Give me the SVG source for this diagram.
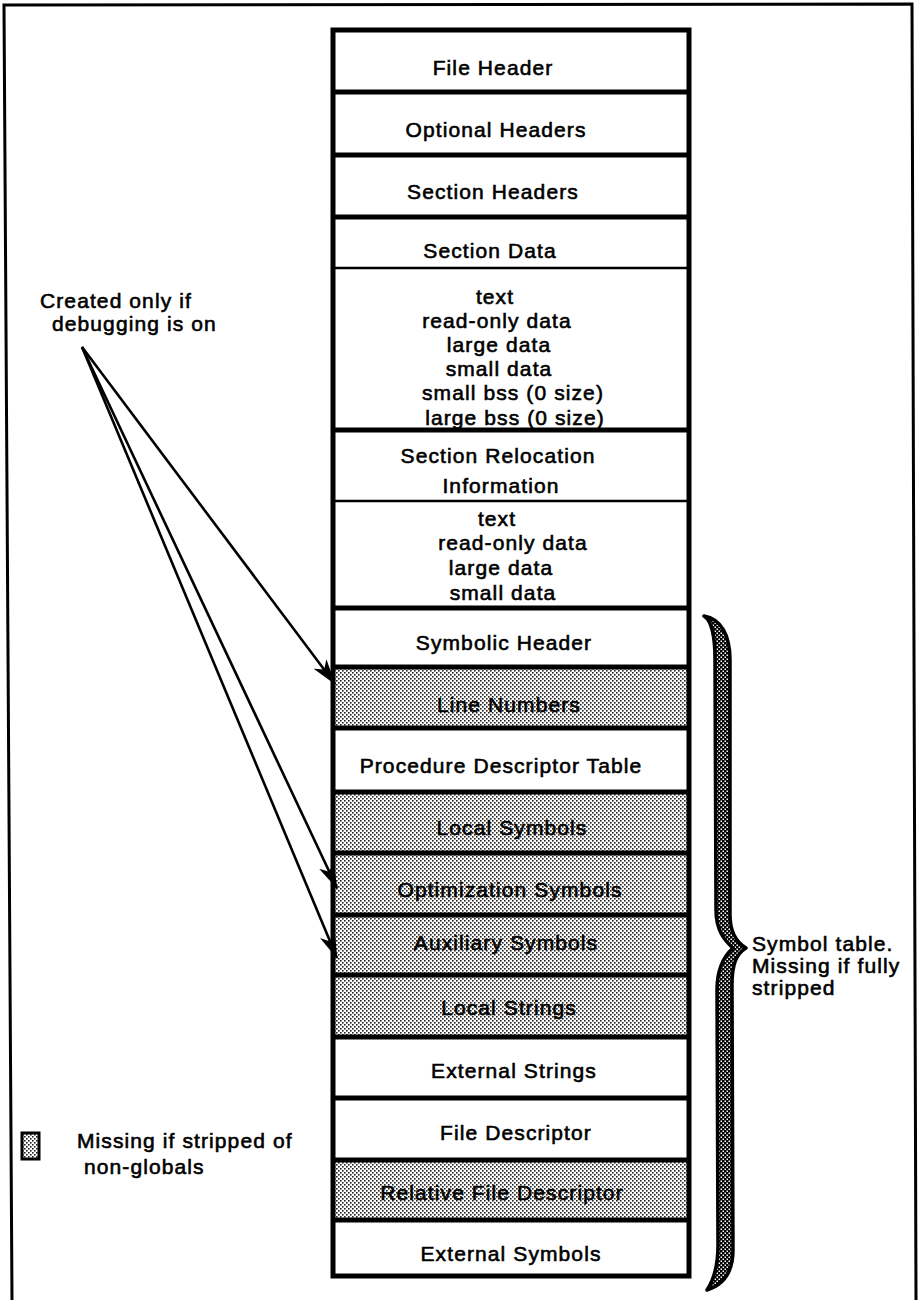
<svg xmlns="http://www.w3.org/2000/svg" width="920" height="1300" viewBox="0 0 920 1300">
  <defs>
    <!-- light stipple used for the optional sections -->
    <pattern id="dots" patternUnits="userSpaceOnUse" width="4" height="4">
      <rect width="4" height="4" fill="#fff"/>
      <rect x="0" y="0" width="1.6" height="1.6" fill="#222"/>
      <rect x="2" y="2" width="1.6" height="1.6" fill="#222"/>
    </pattern>
    <!-- checker used for the brace body -->
    <pattern id="checker" patternUnits="userSpaceOnUse" width="4" height="4">
      <rect width="4" height="4" fill="#000"/>
      <rect x="0.5" y="0.5" width="1.5" height="1.5" fill="#fff"/>
      <rect x="2.5" y="2.5" width="1.5" height="1.5" fill="#fff"/>
    </pattern>
    <marker id="head" markerUnits="userSpaceOnUse" viewBox="0 0 26 16" markerWidth="26" markerHeight="16" refX="25" refY="8" orient="auto">
      <path d="M0,0 L26,8 L0,16 L7,8 Z" fill="#000"/>
    </marker>
    <style>
      text { font-family: "Liberation Sans", Arial, sans-serif; font-size: 21px; letter-spacing: 1.1px; fill: #000; stroke: #000; stroke-width: 0.6px; }
      .c { text-anchor: middle; }
      .plain { fill: #fff; }
      .shade { fill: url(#dots); }
      .div { stroke: #000; stroke-width: 5; }
      .thin { stroke: #000; stroke-width: 2.5; }
      .conn { stroke: #000; stroke-width: 2.6; fill: none; marker-end: url(#head); }
    </style>
  </defs>

  <rect width="920" height="1300" fill="#fff"/>

  <!-- page frame -->
  <path d="M12 1300 L4 5 L912 4 L916 1300" fill="none" stroke="#000" stroke-width="3"/>

  <!-- object file layout column -->
  <g id="file-header"><rect class="plain" x="333" y="30" width="356" height="62"/><text class="c" x="493" y="75">File Header</text></g>
  <g id="optional-headers"><rect class="plain" x="333" y="92" width="356" height="63"/><text class="c" x="496" y="137">Optional Headers</text></g>
  <g id="section-headers"><rect class="plain" x="333" y="155" width="356" height="62"/><text class="c" x="493" y="199">Section Headers</text></g>
  <g id="section-data">
    <rect class="plain" x="333" y="217" width="356" height="213"/>
    <text class="c" x="490" y="258">Section Data</text>
    <text class="c" x="495" y="304">text</text>
    <text class="c" x="497" y="328">read-only data</text>
    <text class="c" x="499" y="352">large data</text>
    <text class="c" x="499" y="376">small data</text>
    <text class="c" x="513" y="400">small bss (0 size)</text>
    <text class="c" x="515" y="425">large bss (0 size)</text>
  </g>
  <g id="section-relocation">
    <rect class="plain" x="333" y="430" width="356" height="178"/>
    <text class="c" x="498" y="463">Section Relocation</text>
    <text class="c" x="501" y="493">Information</text>
    <text class="c" x="497" y="526">text</text>
    <text class="c" x="513" y="550">read-only data</text>
    <text class="c" x="501" y="575">large data</text>
    <text class="c" x="503" y="600">small data</text>
  </g>
  <g id="symbolic-header"><rect class="plain" x="333" y="608" width="356" height="59"/><text class="c" x="504" y="650">Symbolic Header</text></g>
  <g id="line-numbers"><rect class="shade" x="333" y="667" width="356" height="61"/><text class="c" x="509" y="712">Line Numbers</text></g>
  <g id="procedure-descriptor-table"><rect class="plain" x="333" y="728" width="356" height="64"/><text class="c" x="501" y="773">Procedure Descriptor Table</text></g>
  <g id="local-symbols"><rect class="shade" x="333" y="792" width="356" height="61"/><text class="c" x="512" y="835">Local Symbols</text></g>
  <g id="optimization-symbols"><rect class="shade" x="333" y="853" width="356" height="62"/><text class="c" x="510" y="897">Optimization Symbols</text></g>
  <g id="auxiliary-symbols"><rect class="shade" x="333" y="915" width="356" height="60"/><text class="c" x="506" y="950">Auxiliary Symbols</text></g>
  <g id="local-strings"><rect class="shade" x="333" y="975" width="356" height="62"/><text class="c" x="509" y="1015">Local Strings</text></g>
  <g id="external-strings"><rect class="plain" x="333" y="1037" width="356" height="61"/><text class="c" x="514" y="1078">External Strings</text></g>
  <g id="file-descriptor"><rect class="plain" x="333" y="1098" width="356" height="62"/><text class="c" x="516" y="1140">File Descriptor</text></g>
  <g id="relative-file-descriptor"><rect class="shade" x="333" y="1160" width="356" height="60"/><text class="c" x="502" y="1200">Relative File Descriptor</text></g>
  <g id="external-symbols"><rect class="plain" x="333" y="1220" width="356" height="56"/><text class="c" x="511" y="1261">External Symbols</text></g>

  <!-- column outline and dividers -->
  <g id="column-frame">
    <line class="div" x1="333" y1="92" x2="689" y2="92"/>
    <line class="div" x1="333" y1="155" x2="689" y2="155"/>
    <line class="div" x1="333" y1="217" x2="689" y2="217"/>
    <line class="thin" x1="333" y1="268" x2="689" y2="268"/>
    <line class="div" x1="333" y1="430" x2="689" y2="430"/>
    <line class="thin" x1="333" y1="501" x2="689" y2="501"/>
    <line class="div" x1="333" y1="608" x2="689" y2="608"/>
    <line class="div" x1="333" y1="667" x2="689" y2="667"/>
    <line class="div" x1="333" y1="728" x2="689" y2="728"/>
    <line class="div" x1="333" y1="792" x2="689" y2="792"/>
    <line class="div" x1="333" y1="853" x2="689" y2="853"/>
    <line class="div" x1="333" y1="915" x2="689" y2="915"/>
    <line class="div" x1="333" y1="975" x2="689" y2="975"/>
    <line class="div" x1="333" y1="1037" x2="689" y2="1037"/>
    <line class="div" x1="333" y1="1098" x2="689" y2="1098"/>
    <line class="div" x1="333" y1="1160" x2="689" y2="1160"/>
    <line class="div" x1="333" y1="1220" x2="689" y2="1220"/>
    <rect x="333" y="30" width="356" height="1246" fill="none" stroke="#000" stroke-width="5"/>
  </g>

  <!-- debugging note -->
  <g id="debug-note">
    <text x="40" y="308">Created only if</text>
    <text x="52" y="331">debugging is on</text>
  </g>

  <!-- connectors from the debugging note -->
  <g id="connectors">
    <line class="conn" x1="82" y1="347" x2="335" y2="684"/>
    <line class="conn" x1="82" y1="347" x2="337" y2="888"/>
    <line class="conn" x1="82" y1="347" x2="337" y2="958"/>
  </g>

  <!-- brace spanning the symbol table -->
  <g id="symbol-table-brace">
    <path d="M704 616 C721 619 730 635 730 660 L730 915 C730 930 736 942 746 948 C736 954 732 965 732 985 L733 1250 C733 1272 723 1285 707 1290 C715 1278 718 1264 718 1245 L717 990 C717 970 724 956 733 948 C724 940 716 930 716 910 L715 660 C715 635 712 621 704 616 Z" fill="url(#checker)" stroke="#000" stroke-width="3.5" stroke-linejoin="round"/>
  </g>
  <g id="symbol-table-note">
    <text x="752" y="951">Symbol table.</text>
    <text x="752" y="973">Missing if fully</text>
    <text x="752" y="995">stripped</text>
  </g>

  <!-- legend -->
  <g id="legend">
    <rect x="22" y="1133" width="17" height="26" fill="url(#dots)" stroke="#000" stroke-width="3"/>
    <text x="77" y="1148">Missing if stripped of</text>
    <text x="84" y="1174">non-globals</text>
  </g>
</svg>
